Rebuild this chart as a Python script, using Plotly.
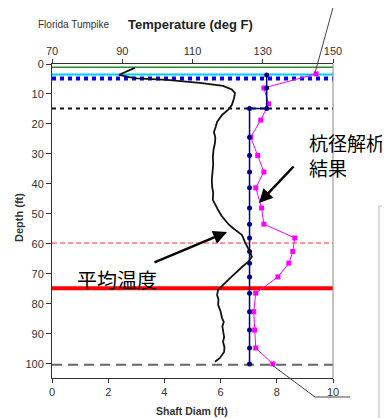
import plotly.graph_objects as go

# ---------------- data ----------------
temp_depth = [1.3, 3.6, 4.4, 4.8, 5.3, 6.3, 7.3, 8.5, 9.7, 11.5, 13.7, 15.3, 17.0, 19.3, 21.0, 22.7,
              24.5, 26.3, 28.5, 31.0, 33.5, 36.3, 38.5, 41.0, 43.0, 45.3, 47.0, 48.7, 50.5, 52.0,
              53.5, 54.7, 56.0, 57.0, 59.3, 61.0, 62.7, 64.3, 66.0, 67.7, 69.0, 70.3, 71.7, 73.0,
              75.3, 77.0, 78.5, 80.3, 82.5, 84.7, 86.0, 87.5, 89.3, 91.0, 92.7, 94.5, 96.0, 98.0, 99.3]
temp_f = [93.6, 89.1, 92.0, 94.2, 102.7, 112.1, 118.7, 121.2, 122.1, 121.8, 121.2, 120.1, 118.4, 117.0,
          116.6, 116.1, 116.5, 116.4, 116.0, 115.8, 115.9, 115.6, 115.5, 115.6, 115.9, 115.8, 116.5,
          117.3, 118.2, 119.3, 120.3, 121.5, 123.0, 124.1, 124.9, 125.7, 126.4, 126.9, 125.8, 124.1,
          122.8, 121.5, 120.4, 119.3, 117.3, 117.0, 117.4, 117.3, 118.0, 118.4, 118.9, 118.5, 118.7,
          119.0, 118.7, 119.1, 119.0, 117.8, 116.4]

mag_depth = [3.3, 8.0, 13.3, 18.7, 24.4, 30.5, 36.0, 41.3, 48.0, 53.4, 58.0, 62.5, 66.4, 71.0,
             76.4, 82.6, 88.7, 94.7, 100.0]
mag_diam = [9.4, 7.54, 7.71, 7.43, 7.07, 7.32, 7.54, 7.25, 7.46, 7.54, 8.64, 8.57, 8.43, 8.04,
            7.25, 7.18, 7.21, 7.25, 7.86]

blue_depth = [3.7, 8.0, 14.8, 14.8, 24.4, 30.5, 36.0, 41.3, 48.0, 53.4, 58.0, 62.5, 66.4, 71.0,
              76.4, 82.6, 88.7, 94.7, 100.0]
blue_diam = [7.64, 7.64, 7.64, 7.03, 7.03, 7.03, 7.03, 7.03, 7.03, 7.03, 7.03, 7.03, 7.03, 7.03,
             7.03, 7.03, 7.03, 7.03, 7.03]

# reference depth lines
green_depth = 1.1
cyan_depth = 3.5
bluedot_depth = 4.8
blackdot_depth = 14.8
reddash_depth = 59.7
redthick_depth = 74.8
graydash_depth = 100.3

diam_ticks = [0, 2, 4, 6, 8, 10]
temp_ticks = [70, 90, 110, 130, 150]
depth_ticks = [0, 10, 20, 30, 40, 50, 60, 70, 80, 90, 100]

# ---------------- geometry helpers (page pixel coords) ----------------
OFF = 8  # default body margin of the html page
L, R, T, B = 52, 333, 64, 378
W, H = 382, 410


def px(x):
    return (x - L) / (R - L)


def py(y):
    return (B - y) / (B - T)


fig = go.Figure()

fig.add_trace(go.Scatter(x=temp_f, y=temp_depth, xaxis="x2", yaxis="y", mode="lines",
                         line=dict(color="#111111", width=1.8), showlegend=False))
fig.add_trace(go.Scatter(x=mag_diam, y=mag_depth, mode="lines+markers",
                         line=dict(color="#ff00ff", width=1),
                         marker=dict(symbol="square", size=5, color="#ff00ff"), showlegend=False))
fig.add_trace(go.Scatter(x=blue_diam, y=blue_depth, mode="lines+markers",
                         line=dict(color="#000080", width=1.5),
                         marker=dict(symbol="circle", size=5, color="#000080"), showlegend=False))

shapes = []


def hline(d, color, width, dash=None):
    shapes.append(dict(type="line", xref="paper", yref="y", x0=0, x1=1, y0=d, y1=d,
                       line=dict(color=color, width=width, dash=dash), layer="below"))


hline(green_depth, "#2e8b2e", 1.5)
hline(cyan_depth, "#00ccff", 2)
hline(bluedot_depth, "#0000ff", 4, "4px,4px")
hline(blackdot_depth, "#111111", 2, "4px,4px")
hline(reddash_depth, "#ff3333", 1, "5px,3px")
hline(redthick_depth, "#ff0000", 4)
hline(graydash_depth, "#666666", 2, "10px,6px")

# right border
shapes.append(dict(type="line", xref="paper", yref="paper", x0=1, x1=1, y0=0, y1=1,
                   line=dict(color="#888888", width=1)))
# callout lines
shapes.append(dict(type="line", xref="paper", yref="paper", x0=px(315), y0=py(73), x1=px(334), y1=py(4),
                   line=dict(color="#444444", width=1)))
shapes.append(dict(type="path", xref="paper", yref="paper",
                   path=f"M {px(272)},{py(365)} L {px(315)},{py(397)} L {px(350)},{py(397)}",
                   line=dict(color="#444444", width=1)))
# partial box on right
shapes.append(dict(type="rect", xref="paper", yref="paper", x0=px(379), x1=px(400), y0=py(430), y1=py(206),
                   line=dict(color="#bbbbbb", width=1)))
shapes.append(dict(type="line", xref="paper", yref="paper", x0=px(383), x1=px(390), y0=py(213), y1=py(213),
                   line=dict(color="#3355cc", width=1.5)))

annotations = [
    dict(text="<b>Temperature (deg F)</b>", x=px(190), y=py(24), xref="paper", yref="paper",
         showarrow=False, font=dict(size=13, color="#222222", family="Liberation Sans"),
         xanchor="center", yanchor="middle"),
    dict(text="Florida Tumpike", x=px(36), y=py(24), xref="paper", yref="paper",
         showarrow=False, font=dict(size=10, color="#333333", family="Liberation Sans"),
         xanchor="left", yanchor="middle"),
    dict(text="<b>Shaft Diam (ft)</b>", x=px(192), y=py(411), xref="paper", yref="paper",
         showarrow=False, font=dict(size=10.5, color="#333333", family="Liberation Sans"),
         xanchor="center", yanchor="middle"),
    dict(text="<b>Depth (ft)</b>", x=px(19), y=py(218), xref="paper", yref="paper",
         showarrow=False, textangle=-90, font=dict(size=11, color="#333333", family="Liberation Sans"),
         xanchor="center", yanchor="middle"),
    dict(text="杭径解析<br>結果", x=px(307), y=py(155), xref="paper", yref="paper",
         showarrow=False, align="left", font=dict(size=19, color="#000000", family="Noto Sans CJK JP"),
         xanchor="left", yanchor="middle"),
    dict(text="平均温度", x=px(117), y=py(279), xref="paper", yref="paper",
         showarrow=False, font=dict(size=20, color="#000000", family="Noto Sans CJK JP"),
         xanchor="center", yanchor="middle"),
    # arrows
    dict(text="", x=px(259), y=py(203), xref="paper", yref="paper", showarrow=True,
         ax=295 - 259, ay=165 - 203, arrowhead=2, arrowsize=1.1, arrowwidth=2.5, arrowcolor="#000000"),
    dict(text="", x=px(227), y=py(232), xref="paper", yref="paper", showarrow=True,
         ax=153 - 227, ay=263 - 232, arrowhead=2, arrowsize=1.1, arrowwidth=2.5, arrowcolor="#000000"),
]

tickfont = dict(size=11, color="#333333", family="Liberation Sans")

fig.update_layout(
    width=W, height=H,
    margin=dict(l=L - OFF, r=W - (R - OFF), t=T - OFF, b=H - (B - OFF), pad=0),
    paper_bgcolor="white", plot_bgcolor="white",
    showlegend=False,
    xaxis=dict(range=[0, 10], tickvals=diam_ticks, showgrid=False, zeroline=False,
               showline=True, linecolor="#333333", linewidth=1, ticks="outside", ticklen=4,
               tickcolor="#333333", tickfont=tickfont),
    xaxis2=dict(range=[70, 150], tickvals=temp_ticks, overlaying="x", side="top", anchor="y",
                showgrid=False, zeroline=False, showline=True, linecolor="#333333", linewidth=1,
                ticks="outside", ticklen=4, tickcolor="#333333", tickfont=tickfont),
    yaxis=dict(range=[104.7, 0], tickvals=depth_ticks, showgrid=False, zeroline=False,
               showline=True, linecolor="#333333", linewidth=1, ticks="outside", ticklen=5,
               tickcolor="#333333", tickfont=tickfont),
    shapes=shapes,
    annotations=annotations,
)

fig.write_html("out.html")
